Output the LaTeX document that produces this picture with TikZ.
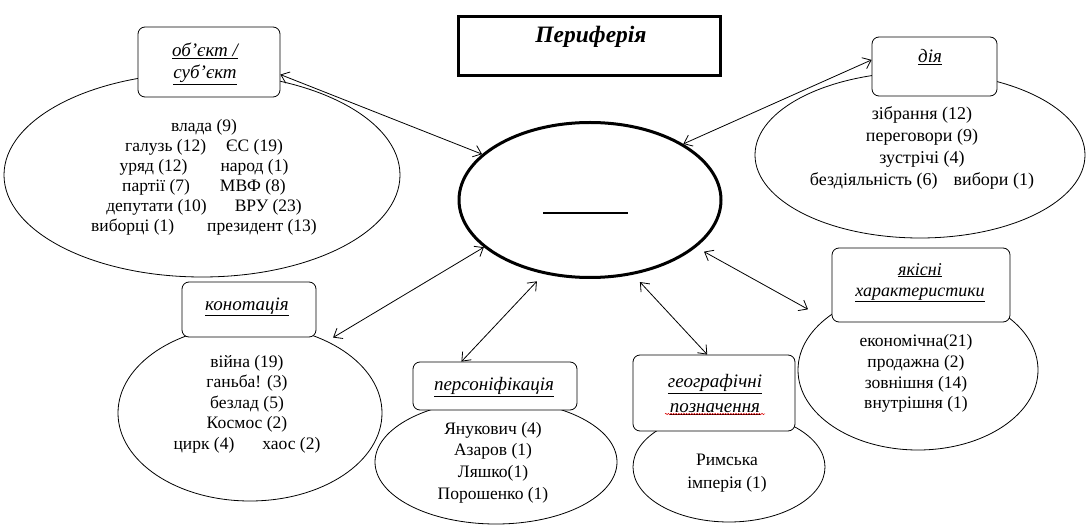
\documentclass[tikz,border=0pt]{standalone}
\usepackage{fontspec}
\setmainfont{Liberation Serif}
\usetikzlibrary{shapes.geometric,arrows.meta,decorations.pathmorphing}
\begin{document}
\begin{tikzpicture}[x=1pt,y=-1pt,
  ell/.style={ellipse,draw,line width=0.8pt,inner sep=0pt},
  cat/.style={draw,rounded corners=7pt,fill=white,line width=0.8pt,inner sep=0pt},
  body/.style={align=center,inner sep=0pt},
  lab/.style={align=center,font=\itshape\fontsize{19}{22}\selectfont,inner sep=0pt},
  arr/.style={{Straight Barb[length=7.5pt,width=12pt]}-{Straight Barb[length=7.5pt,width=12pt]},line width=0.8pt}]
\useasboundingbox (0,0) rectangle (1090,526);

% ellipses
\node[ell,minimum width=396pt,minimum height=204pt] (eobj) at (202,175) {};
\node[ell,minimum width=330pt,minimum height=166pt] (edia) at (920,155) {};
\node[ell,minimum width=264pt,minimum height=176pt] (ekon) at (250,413) {};
\node[ell,minimum width=242pt,minimum height=124pt] (epers) at (496,462) {};
\node[ell,minimum width=192pt,minimum height=110pt] (egeo) at (729,467) {};
\node[ell,minimum width=240pt,minimum height=160pt] (eyak) at (918,370) {};

% boxes
\node[cat,minimum width=142pt,minimum height=70pt] (obj) at (209,62) {};
\node[cat,minimum width=125pt,minimum height=59pt] (dia) at (934.5,66.5) {};
\node[cat,minimum width=134pt,minimum height=55pt] (kon) at (249,309.5) {};
\node[cat,minimum width=164pt,minimum height=48pt] (pers) at (495,386) {};
\node[cat,minimum width=162pt,minimum height=76pt] (geo) at (714,393) {};
\node[cat,minimum width=178pt,minimum height=74pt] (yak) at (921,285) {};

% title
\node[draw,line width=3.5pt,minimum width=262pt,minimum height=59pt,inner sep=0pt] (title) at (589.5,46) {};
\node[font=\bfseries\itshape\fontsize{23.5}{28}\selectfont,inner sep=0pt] (titlet) at (591,37) {Периферія};

% central
\node[ellipse,draw,line width=3pt,minimum width=262pt,minimum height=155pt,inner sep=0pt] (c) at (590,200) {};
\node[inner sep=0pt] (dash) at (585.5,213) {\rule{85pt}{2.6pt}};

% labels
\node[lab] (objt) at (205,64) {\underline{об’єкт /}\\\underline{суб’єкт}};
\node[lab] (diat) at (930,57) {\underline{дія}};
\node[lab] (kont) at (247,307) {\underline{конотація}};
\node[lab] (perst) at (494,387) {\underline{персоніфікація}};
\node[lab,font=\itshape\fontsize{19}{25}\selectfont] (geot) at (715,394.5) {\underline{географічні}\\\underline{позначення}};
\node[lab,font=\itshape\fontsize{18}{21}\selectfont] (yakt) at (920,282.5) {\underline{якісні}\\\underline{характеристики}};
\draw[red!85!black,line width=0.5pt,decorate,decoration={snake,amplitude=0.7pt,segment length=2.6pt}] (665,414) -- (765,414);

% bodies
\node[body,font=\fontsize{17.5}{20}\selectfont] (objb) at (204,177) {влада (9)\\галузь (12)\hspace{20pt}ЄС (19)\\уряд (12)\hspace{33pt}народ (1)\\партії (7)\hspace{30pt}МВФ (8)\\депутати (10)\hspace{28pt}ВРУ (23)\\виборці (1)\hspace{33pt}президент (13)};
\node[body,font=\fontsize{18}{21.7}\selectfont] (diab) at (922,148) {зібрання (12)\\переговори (9)\\зустрічі (4)\\бездіяльність (6)\hspace{16pt}вибори (1)};
\node[body,font=\fontsize{17.5}{20.5}\selectfont] (konb) at (247,404) {війна (19)\\ганьба! (3)\\безлад (5)\\Космос (2)\\цирк (4)\hspace{28pt}хаос (2)};
\node[body,font=\fontsize{17.5}{21.7}\selectfont] (persb) at (493,462.5) {Янукович (4)\\Азаров (1)\\Ляшко(1)\\Порошенко (1)};
\node[body,font=\fontsize{17.5}{23}\selectfont] (geob) at (727,473.5) {Римська\\імперія (1)};
\node[body,font=\fontsize{17.5}{20.7}\selectfont] (yakb) at (916,373.5) {економічна(21)\\продажна (2)\\зовнішня (14)\\внутрішня (1)};

% connectors
\draw[arr] (c.157) -- (obj.-10);
\draw[arr] (c.31) -- (dia.174);
\draw[arr,shorten <=9pt,shorten >=27pt] (c.-24) -- (yak.south west);
\draw[arr,shorten >=7pt] (c.204) -- (ekon.43);
\draw[arr,shorten <=10pt] (c.238) -- (pers.144);
\draw[arr,shorten <=10pt] (c.-60) -- (geo.100);
\end{tikzpicture}
\end{document}
